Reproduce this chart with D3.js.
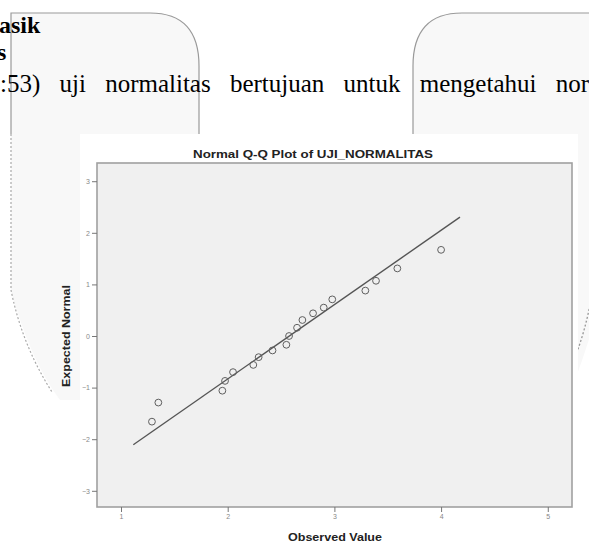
<!DOCTYPE html>
<html><head><meta charset="utf-8">
<script src="https://cdn.jsdelivr.net/npm/d3@7"></script>
<style>body{margin:0;background:#fff;overflow:hidden}</style>
</head><body>
<svg id="c" width="589" height="543"></svg>
<script>
// ---- data ----
const observed = [1.29,1.35,1.95,1.975,2.05,2.24,2.29,2.42,2.55,2.575,2.65,2.70,2.80,2.90,2.98,3.29,3.39,3.59,4.00];
const expectedNormal = [-1.66,-1.29,-1.06,-0.87,-0.70,-0.56,-0.41,-0.28,-0.17,0.0,0.16,0.31,0.44,0.55,0.71,0.88,1.07,1.31,1.67];
const xTicks = [1,2,3,4,5];
const yTicks = [-3,-2,-1,0,1,2,3];
const refLineX = [1.115, 4.177];
const refMean = 2.578, refSD = 0.694;
const chartTitle = "Normal Q-Q Plot of UJI_NORMALITAS";
const xTitle = "Observed Value";
const yTitle = "Expected Normal";
const docLines = ["asik", "s", "1:53) uji normalitas bertujuan untuk mengetahui normalitas"];

const svg = d3.select("#c");

// ---- document background decorations ----
const deco = svg.append("g");
deco.append("path")
  .attr("d","M11,13 H150 Q199,13 199,66 V400 H60 Q30,360 11,290 Z")
  .attr("fill","#f8f8f8").attr("stroke","none");
deco.append("path").attr("d","M11,134 V13 H150 Q199,13 199,66 V140")
  .attr("fill","none").attr("stroke","#9a9a9a").attr("stroke-width",1.2);
deco.append("path").attr("d","M11,134 V290 Q22,345 52,392")
  .attr("fill","none").attr("stroke","#aaa").attr("stroke-width",1.2).attr("stroke-dasharray","2,2");
deco.append("path")
  .attr("d","M413,560 V66 Q413,13 462,13 H600 V300 Q590,340 575,380 V560 Z")
  .attr("fill","#f8f8f8").attr("stroke","none");
deco.append("path").attr("d","M413,140 V66 Q413,13 462,13 H600")
  .attr("fill","none").attr("stroke","#9a9a9a").attr("stroke-width",1.2);
deco.append("path").attr("d","M590,305 Q585,330 577,352")
  .attr("fill","none").attr("stroke","#999").attr("stroke-width",1.3).attr("stroke-dasharray","2,2");

const tf = "'Liberation Serif','Times New Roman',serif";
svg.append("text").attr("x",-1).attr("y",33).text(docLines[0])
  .attr("font-family",tf).attr("font-weight","bold").attr("font-size",24).attr("fill","#000");
svg.append("text").attr("x",-3).attr("y",60).text(docLines[1])
  .attr("font-family",tf).attr("font-weight","bold").attr("font-size",24).attr("fill","#000");
svg.append("text").attr("x",-12.5).attr("y",92).text(docLines[2])
  .attr("font-family",tf).attr("font-size",25).attr("word-spacing",13).attr("fill","#000");

// ---- chart image ----
svg.append("rect").attr("x",80).attr("y",134).attr("width",498).attr("height",409).attr("fill","#fff");

const fx0 = 97, fx1 = 572, fy0 = 163, fy1 = 507;
const x = d3.scaleLinear().domain([0.775, 5.227]).range([fx0, fx1]);
const y = d3.scaleLinear().domain([-3.314, 3.353]).range([fy1, fy0]);

svg.append("rect").attr("x",fx0).attr("y",fy0).attr("width",fx1-fx0).attr("height",fy1-fy0)
  .attr("fill","#f0f0f0").attr("stroke","#a0a0a0").attr("stroke-width",1.6);

const cf = "'Liberation Sans',Arial,sans-serif";
const ax = svg.append("g").attr("transform",`translate(0,${fy1})`)
  .call(d3.axisBottom(x).tickValues(xTicks).tickSize(5).tickPadding(2).tickFormat(d3.format("d")));
const ay = svg.append("g").attr("transform",`translate(${fx0},0)`)
  .call(d3.axisLeft(y).tickValues(yTicks).tickSize(5).tickPadding(2).tickFormat(d3.format("d")));
[ax, ay].forEach(g => {
  g.select(".domain").remove();
  g.selectAll(".tick line").attr("stroke","#777").attr("stroke-width",1);
  g.selectAll(".tick text").attr("font-family",cf).attr("font-size",7).attr("fill","#888");
});

// reference line
svg.append("line")
  .attr("x1", x(refLineX[0])).attr("y1", y((refLineX[0]-refMean)/refSD))
  .attr("x2", x(refLineX[1])).attr("y2", y((refLineX[1]-refMean)/refSD))
  .attr("stroke","#555").attr("stroke-width",1.4);

// points
svg.append("g").selectAll("circle").data(observed).join("circle")
  .attr("cx", d => x(d)).attr("cy", (d,i) => y(expectedNormal[i])).attr("r",3.4)
  .attr("fill","none").attr("stroke","#5f5f5f").attr("stroke-width",1);

// titles
svg.append("text").attr("x",313).attr("y",158).attr("text-anchor","middle")
  .attr("font-family",cf).attr("font-weight","bold").attr("font-size",11.5).attr("fill","#222")
  .attr("textLength",240).attr("lengthAdjust","spacingAndGlyphs").text(chartTitle);
svg.append("text").attr("x",335).attr("y",541).attr("text-anchor","middle")
  .attr("font-family",cf).attr("font-weight","bold").attr("font-size",10).attr("fill","#222")
  .attr("textLength",94).attr("lengthAdjust","spacingAndGlyphs").text(xTitle);
svg.append("text").attr("transform","translate(70,336) rotate(-90)").attr("text-anchor","middle")
  .attr("font-family",cf).attr("font-weight","bold").attr("font-size",10).attr("fill","#222")
  .attr("textLength",102).attr("lengthAdjust","spacingAndGlyphs").text(yTitle);
</script>
</body></html>
